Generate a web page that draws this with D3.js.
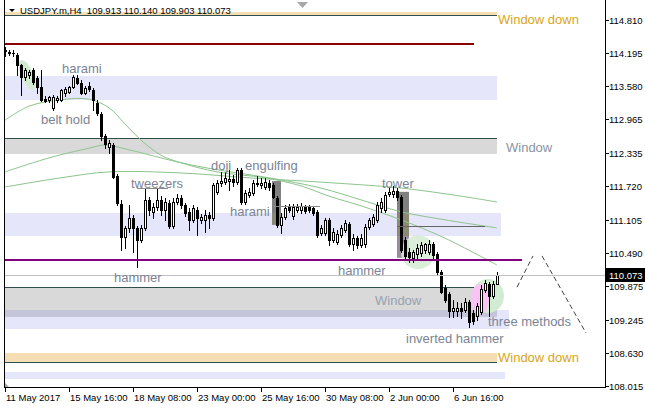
<!DOCTYPE html>
<html><head><meta charset="utf-8">
<script src="https://cdn.jsdelivr.net/npm/d3@7"></script>
<style>
html,body{margin:0;padding:0;background:#fff;}
svg{display:block;font-family:"Liberation Sans",Arial,sans-serif;}
</style></head><body><svg id="c" width="645" height="408"></svg>
<script>
// ---------- DATA ----------
const symbolTitle = "USDJPY.m,H4  109.913 110.140 109.903 110.073";
const opens = [
114.25,114.21,114.20,114.16,113.98,113.76,113.79,113.88,113.73,113.57,
113.34,113.32,113.18,113.33,113.33,113.46,113.48,113.57,113.74,113.64,
113.46,113.59,113.51,113.27,113.07,112.66,112.46,112.49,111.91,111.39,
110.78,110.95,111.13,110.95,110.73,110.95,111.47,111.25,111.34,111.47,
111.28,111.41,110.99,111.43,111.50,111.37,111.25,111.10,111.28,111.10,
111.10,111.19,111.13,111.62,111.78,111.80,111.82,111.86,111.80,112.03,
111.43,111.56,111.60,111.78,111.75,111.71,111.78,111.75,111.50,111.01,
111.15,111.34,111.17,111.28,111.28,111.34,111.34,111.32,111.25,110.86,
110.86,111.10,110.73,110.69,110.82,110.91,111.02,110.66,110.77,110.64,
110.66,110.97,111.02,111.10,111.32,111.28,111.58,111.58,111.64,111.52,
110.73,110.50,110.40,110.47,110.49,110.54,110.50,110.65,110.47,110.13,
109.84,109.72,109.40,109.41,109.47,109.43,109.58,109.37,109.31,109.39,
109.80,109.91,109.69,109.913];
const highs = [
114.31,114.25,114.26,114.20,114.00,113.92,113.88,113.92,113.77,113.88,
113.40,113.40,113.42,113.40,113.53,113.57,113.59,113.79,113.78,113.70,
113.59,113.66,113.55,113.33,113.10,112.70,112.58,112.53,111.95,111.47,
110.99,111.38,111.19,110.99,111.01,111.69,111.52,111.41,111.69,111.54,
111.50,111.47,111.50,111.58,111.56,111.41,111.32,111.37,111.34,111.21,
111.28,111.24,111.78,111.84,111.99,111.99,112.03,111.93,112.06,112.06,
111.65,111.69,111.84,111.91,111.88,111.88,111.84,111.78,111.54,111.23,
111.37,111.39,111.39,111.39,111.41,111.37,111.37,111.36,111.28,111.01,
111.14,111.14,110.95,110.91,111.01,111.10,111.06,110.84,110.80,110.84,
111.02,111.14,111.21,111.43,111.50,111.62,111.69,111.73,111.69,111.56,
110.78,110.58,110.54,110.65,110.69,110.67,110.73,110.69,110.50,110.17,
109.89,109.76,109.61,109.58,109.56,109.65,109.61,109.43,109.56,109.89,
109.98,109.95,109.97,110.140];
const lows = [
114.14,114.16,114.15,113.79,113.42,113.70,113.73,113.62,113.45,113.31,
113.29,113.29,113.14,113.29,113.31,113.40,113.46,113.55,113.62,113.44,
113.44,113.49,113.14,113.05,112.58,112.43,112.35,111.88,111.37,110.54,
110.58,110.87,110.50,110.22,110.69,110.91,111.19,111.14,111.28,111.19,
111.10,110.95,110.95,111.39,111.32,111.17,110.91,111.06,110.82,111.04,
110.87,110.95,111.10,111.58,111.73,111.76,111.65,111.73,111.76,111.39,
111.39,111.52,111.56,111.73,111.69,111.67,111.65,111.50,110.97,110.86,
111.12,111.25,111.12,111.25,111.23,111.23,111.25,111.19,110.78,110.82,
110.82,110.64,110.69,110.65,110.78,110.87,110.62,110.54,110.58,110.60,
110.60,110.93,110.99,111.06,111.25,111.25,111.54,111.52,111.47,110.50,
110.40,110.32,110.32,110.40,110.43,110.49,110.47,110.40,110.09,109.75,
109.57,109.29,109.29,109.32,109.28,109.39,109.11,109.17,109.24,109.35,
109.76,109.32,109.65,109.903];
const closes = [
114.23,114.20,114.19,113.98,113.76,113.88,113.84,113.66,113.57,113.33,
113.31,113.38,113.38,113.37,113.51,113.53,113.57,113.75,113.64,113.46,
113.55,113.53,113.33,113.09,112.66,112.51,112.53,111.90,111.41,110.78,
110.95,111.13,110.95,110.73,110.95,111.47,111.28,111.34,111.47,111.28,
111.43,110.99,111.43,111.50,111.37,111.23,111.10,111.32,111.13,111.15,
111.19,111.13,111.75,111.78,111.82,111.88,111.86,111.80,112.03,111.43,
111.60,111.62,111.78,111.76,111.78,111.80,111.71,111.52,111.01,111.15,
111.32,111.28,111.34,111.34,111.36,111.26,111.28,111.23,110.82,110.95,
111.10,110.73,110.88,110.84,110.95,111.04,110.66,110.77,110.64,110.77,
110.97,111.10,111.15,111.37,111.43,111.56,111.62,111.64,111.52,110.54,
110.43,110.41,110.50,110.58,110.63,110.65,110.65,110.45,110.13,109.76,
109.61,109.40,109.47,109.47,109.40,109.58,109.21,109.22,109.50,109.82,
109.93,109.69,109.91,110.073];

// moving averages: [bar index, price]
const maFast = [[0,112.95],[6,113.21],[14,113.33],[21,113.34],[26,113.18],[30,112.88],[34,112.58],[39,112.30],[44,112.16],[53,111.99],[65,111.88],[74,111.73],[81,111.54],[89,111.36],[99,111.10],[110,110.76],[123,110.26]];
const maMid = [[0,111.99],[11,112.25],[21,112.43],[25,112.49],[31,112.40],[44,112.16],[53,112.03],[66,111.88],[79,111.69],[89,111.47],[99,111.25],[110,111.10],[123,110.95]];
const maSlow = [[0,111.71],[14,111.88],[26,111.99],[44,111.97],[61,111.88],[79,111.80],[99,111.69],[114,111.54],[123,111.43]];

const priceTicks = [114.810,114.195,113.580,112.965,112.335,111.720,111.105,110.490,109.875,109.245,108.630,108.015];
const priceTickLabels = ["114.810","114.195","113.580","112.965","112.335","111.720","111.105","110.490","109.875","109.245","108.630","108.015"];
const timeTickBars = [0,16,32,48,64,80,96,112];
const timeTickLabels = ["11 May 2017","15 May 16:00","18 May 08:00","23 May 00:00","25 May 16:00","30 May 08:00","2 Jun 00:00","6 Jun 16:00"];
const lastPrice = 110.073;

// zones: [topPrice, bottomPrice, endBar]
const lavenderZones = [[113.77,113.325,123],[111.227,110.80,124],[109.42,109.07,126],[108.27,108.14,125]];
const grayWindows = [[112.61,112.32,123],[109.85,109.42,123]];
const overlapZone = [109.42,109.30,123];
const wheatWindows = [[114.95,114.90,123],[108.63,108.46,123]];
const redLevel = [114.363,117.25];
const purpleLevel = [110.354,129.25];
// pattern boxes: [startBar, endBar, top, bottom]
const haramiBox = [66.75,69,111.82,111.01];
const towerBox = [98,101,111.62,110.40];
// short pattern lines: [startBar,endBar,price]
const patternLines = [[33,40.75,111.70,"#8a8a8a"],[67,78.75,111.356,"#8a8a8a"],[98,120,110.985,"#666"]];
// projection zigzag segments
const zigzag = [[[128,109.85],[132,110.43]],[[134.25,110.43],[145.25,109.00]]];
// ellipses: [bar, price]
const greenMarks = [[5.5,113.79],[103.25,110.50],[120.75,109.685]];
const pinkMark = [118.75,109.63];
// labels: [text, bar, price]
const labels = [
 ["harami",14.25,113.83],["belt hold",9,112.88],["tweezers",31.5,111.69],
 ["doji",51.5,112.03],["engulfing",60,112.03],["harami",56.25,111.17],
 ["tower",94.25,111.69],["hammer",27.25,109.95],["hammer",83.25,110.08],
 ["three methods",120.75,109.128],["inverted hammer",100.25,108.81]
];
const windowLabels = [["Window",125.25,112.36,"#8a93a3"],["Window",92.5,109.52,"#97a1b2"]];
const windowDownLabels = [["Window down",123.25,114.74],["Window down",123.25,108.46]];

// ---------- DRAW ----------
const L=4, R=605, B=388;
const x = d3.scaleLinear().domain([0,123]).range([5,497]);
const y = d3.scaleLinear().domain([108.015,114.810]).range([386,20]);
const svg = d3.select('#c');
svg.append('defs').append('clipPath').attr('id','pc').append('rect').attr('x',L).attr('y',0).attr('width',R-L).attr('height',B);
const g = svg.append('g').attr('clip-path','url(#pc)');

function zone(t,b,e,fill){
  g.append('rect').attr('x',L).attr('width',x(e)-L).attr('y',Math.round(y(t))).attr('height',Math.max(1,Math.round(y(b))-Math.round(y(t)))).attr('fill',fill);
}
lavenderZones.forEach(z=>zone(z[0],z[1],z[2],'#e6e6fa'));
grayWindows.forEach(z=>{zone(z[0],z[1],z[2],'#d9d9d9');
  g.append('line').attr('x1',L).attr('x2',x(z[2])).attr('y1',Math.round(y(z[0]))+0.5).attr('y2',Math.round(y(z[0]))+0.5).attr('stroke','#2f4f4f');});
zone(overlapZone[0],overlapZone[1],overlapZone[2],'#c5c5d9');
wheatWindows.forEach(z=>{zone(z[0],z[1],z[2],'#f5deb3');
  g.append('line').attr('x1',L).attr('x2',x(z[2])).attr('y1',Math.round(y(z[1]))+0.5).attr('y2',Math.round(y(z[1]))+0.5).attr('stroke','#2f4f4f');});

// pattern boxes
function box(bx,fill){
  g.append('rect').attr('x',x(bx[0])).attr('width',x(bx[1])-x(bx[0])).attr('y',y(bx[2])).attr('height',y(bx[3])-y(bx[2])).attr('fill',fill);
}
box(haramiBox,'#808080');
box(towerBox,'#808080');
const lz = lavenderZones[1];
box([haramiBox[0],haramiBox[1],lz[0],haramiBox[3]],'#8b8a70');
box([towerBox[0],towerBox[1],lz[0],lz[1]],'#8b8a70');
box([towerBox[0],towerBox[1],lz[1],towerBox[3]],'#988c9e');

// ellipses
g.append('ellipse').attr('cx',x(greenMarks[0][0])).attr('cy',y(greenMarks[0][1])).attr('rx',6).attr('ry',16)
 .attr('transform',`rotate(-22 ${x(greenMarks[0][0])} ${y(greenMarks[0][1])})`).attr('fill','#d3ebd3');
g.append('circle').attr('cx',x(greenMarks[1][0])).attr('cy',y(greenMarks[1][1])).attr('r',17).attr('fill','#d3ebd3').attr('opacity',0.85);
g.append('ellipse').attr('cx',x(greenMarks[2][0])).attr('cy',y(greenMarks[2][1])).attr('rx',16).attr('ry',17).attr('fill','#d3ebd3');
g.append('ellipse').attr('cx',x(pinkMark[0])).attr('cy',y(pinkMark[1])).attr('rx',9).attr('ry',15).attr('fill','#f9c3f3');

// moving averages
const lineGen = d3.line().x(d=>x(d[0])).y(d=>y(d[1])).curve(d3.curveCatmullRom);
[maFast,maMid,maSlow].forEach(m=>g.append('path').attr('d',lineGen(m)).attr('fill','none').attr('stroke','#8cc48c').attr('stroke-width',1));

// candles
closes.forEach((c,i)=>{
  const o=opens[i], h=highs[i], l=lows[i];
  const cx = Math.round(x(i));
  g.append('line').attr('x1',cx+0.5).attr('x2',cx+0.5).attr('y1',Math.round(y(h))).attr('y2',Math.round(y(l))+1).attr('stroke','#000');
  const yt = Math.round(y(Math.max(o,c))), yb = Math.round(y(Math.min(o,c)));
  if (c>=o){
    if (yb-yt<1) g.append('line').attr('x1',cx-1).attr('x2',cx+2).attr('y1',yt+0.5).attr('y2',yt+0.5).attr('stroke','#000');
    else g.append('rect').attr('x',cx-0.5).attr('y',yt+0.5).attr('width',2).attr('height',yb-yt).attr('fill','#fff').attr('stroke','#000');
  } else {
    g.append('rect').attr('x',cx-1).attr('y',yt).attr('width',3).attr('height',Math.max(1,yb-yt+1)).attr('fill','#000');
  }
});

// levels
g.append('line').attr('x1',L).attr('x2',R).attr('y1',Math.round(y(lastPrice))+0.5).attr('y2',Math.round(y(lastPrice))+0.5).attr('stroke','#c0c0c0');
g.append('line').attr('x1',L).attr('x2',x(redLevel[1])).attr('y1',Math.round(y(redLevel[0]))).attr('y2',Math.round(y(redLevel[0]))).attr('stroke','#8b0000').attr('stroke-width',2);
g.append('line').attr('x1',L).attr('x2',x(purpleLevel[1])).attr('y1',Math.round(y(purpleLevel[0]))).attr('y2',Math.round(y(purpleLevel[0]))).attr('stroke','#800080').attr('stroke-width',2);
patternLines.forEach(p=>g.append('line').attr('x1',x(p[0])).attr('x2',x(p[1])).attr('y1',Math.round(y(p[2]))+0.5).attr('y2',Math.round(y(p[2]))+0.5).attr('stroke',p[3]));
zigzag.forEach(s=>g.append('line').attr('x1',x(s[0][0])).attr('y1',y(s[0][1])).attr('x2',x(s[1][0])).attr('y2',y(s[1][1])).attr('stroke','#404040').attr('stroke-dasharray','5,3'));

// labels
labels.forEach(t=>g.append('text').attr('x',x(t[1])).attr('y',y(t[2])).attr('font-size',13).attr('fill','#7b8495').text(t[0]));
windowLabels.forEach(t=>g.append('text').attr('x',x(t[1])).attr('y',y(t[2])).attr('font-size',13).attr('fill',t[3]).text(t[0]));
windowDownLabels.forEach(t=>g.append('text').attr('x',x(t[1])).attr('y',y(t[2])).attr('font-size',13).attr('fill','#daa520').text(t[0]));

// frame
svg.append('line').attr('x1',L+0.5).attr('x2',L+0.5).attr('y1',0).attr('y2',B).attr('stroke','#000');
svg.append('line').attr('x1',R+0.5).attr('x2',R+0.5).attr('y1',0).attr('y2',B).attr('stroke','#000');
svg.append('line').attr('x1',L).attr('x2',R+1).attr('y1',B-0.5).attr('y2',B-0.5).attr('stroke','#000');

// price axis
priceTicks.forEach((p,k)=>{
  const yy = Math.round(y(p))+0.5;
  svg.append('line').attr('x1',R).attr('x2',R+4).attr('y1',yy).attr('y2',yy).attr('stroke','#000');
  svg.append('text').attr('x',R+4).attr('y',yy+3.5).attr('font-size',9.5).attr('fill','#000').text(priceTickLabels[k]);
});
// time axis
timeTickBars.forEach((b,k)=>{
  const xx = Math.round(x(b))+0.5;
  svg.append('line').attr('x1',xx).attr('x2',xx).attr('y1',B).attr('y2',B+4).attr('stroke','#000');
  svg.append('text').attr('x',xx+0.5).attr('y',401).attr('font-size',9.5).attr('fill','#000').text(timeTickLabels[k]);
});
// last price tag
const ly = Math.round(y(lastPrice));
svg.append('rect').attr('x',R+1).attr('y',ly-7).attr('width',40).attr('height',14).attr('fill','#000');
svg.append('text').attr('x',R+4).attr('y',ly+4).attr('font-size',9.5).attr('fill','#fff').text(lastPrice.toFixed(3));

// title
svg.append('path').attr('d','M9,9 L15,9 L12,12 Z').attr('fill','#000');
svg.append('text').attr('x',20).attr('y',14).attr('font-size',9.5).attr('fill','#000').style('white-space','pre').text(symbolTitle);
// shift marker and corner marker
svg.append('path').attr('d','M297,2 L308,2 L302.5,8 Z').attr('fill','#a8a8a8');
svg.append('path').attr('d','M5,383 L5,387 L9,387 Z').attr('fill','#a8a8a8');
</script></body></html>
